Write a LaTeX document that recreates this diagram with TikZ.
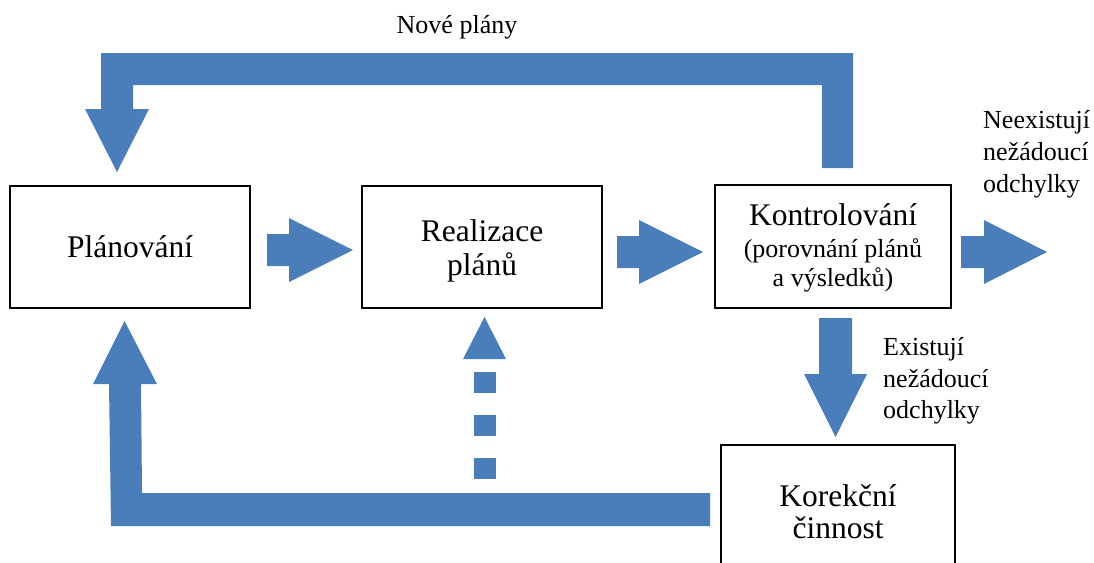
\documentclass[tikz,border=0pt]{standalone}
\usepackage{fontspec}
\setmainfont{Liberation Serif}
\definecolor{ablue}{RGB}{74,126,187}
\begin{document}
\begin{tikzpicture}[x=1pt,y=-1pt,
  box/.style={draw=black, line width=1.2pt, rectangle, inner sep=0pt},
  big/.style={font=\fontsize{31.5}{34}\selectfont, inner sep=0pt},
  blk/.style={fill=ablue, draw=none},
  lbl/.style={font=\fontsize{26}{32}\selectfont, inner sep=0pt},
]
\useasboundingbox (0,0) rectangle (1094,562);
\clip (0,0) rectangle (1094,562);

% boxes
\node[box, minimum width=240pt, minimum height=122pt] (plan) at (130,247) {};
\node[box, minimum width=240pt, minimum height=122pt] (real) at (482,247) {};
\node[box, minimum width=236pt, minimum height=123pt] (kont) at (833,246.5) {};
\node[box, minimum width=234pt, minimum height=135pt] (kor) at (838,512.5) {};

% box texts
\node[big, anchor=base] (p1) at (130,257) {Plánování};
\node[big, anchor=base] (r1) at (482,241) {Realizace};
\node[big, anchor=base] (r2) at (482,275) {plánů};
\node[big, anchor=base] (k1) at (833,225) {Kontrolování};
\node[lbl, anchor=base] (k2) at (833,257) {(porovnání plánů};
\node[lbl, anchor=base] (k3) at (833,286) {a výsledků)};
\node[big, anchor=base] (c1) at (838,506) {Korekční};
\node[big, anchor=base] (c2) at (838,538) {činnost};

% labels
\node[lbl, anchor=base] (nove) at (457,33) {Nové plány};
\node[lbl, anchor=base west] (ne1) at (983,128) {Neexistují};
\node[lbl, anchor=base west] (ne2) at (983,160) {nežádoucí};
\node[lbl, anchor=base west] (ne3) at (983,192) {odchylky};
\node[lbl, anchor=base west] (ex1) at (883,355) {Existují};
\node[lbl, anchor=base west] (ex2) at (883,387) {nežádoucí};
\node[lbl, anchor=base west] (ex3) at (883,418) {odchylky};

% straight block arrows
\fill[blk] (267,234) -- (289,234) -- (289,218) -- (353,250) -- (289,282) -- (289,266) -- (267,266) -- cycle;
\fill[blk] (617,236) -- (639,236) -- (639,220) -- (703,252) -- (639,284) -- (639,268) -- (617,268) -- cycle;
\fill[blk] (961,236) -- (984,236) -- (984,220) -- (1047,252) -- (984,284) -- (984,268) -- (961,268) -- cycle;
\fill[blk] (819,318) -- (852,318) -- (852,374) -- (867,374) -- (835.5,437) -- (804,374) -- (819,374) -- cycle;

% top bent arrow (Nove plany)
\fill[blk] (822,168) -- (853,168) -- (853,53) -- (101,53) -- (101,109) -- (85,109) -- (117,172)
  -- (149,109) -- (133,109) -- (133,85) -- (822,85) -- cycle;

% bottom bent arrow
\fill[blk] (710,493) -- (142,493) -- (141,384) -- (157,384) -- (124.5,321) -- (93,384) -- (109,384)
  -- (111,526) -- (710,526) -- cycle;

% dotted arrow to Realizace
\fill[blk] (463,359) -- (484.5,317) -- (506,359) -- cycle;
\fill[blk] (474,372) rectangle (496,393);
\fill[blk] (474,415) rectangle (496,436);
\fill[blk] (474,458) rectangle (496,479);
\end{tikzpicture}
\end{document}
